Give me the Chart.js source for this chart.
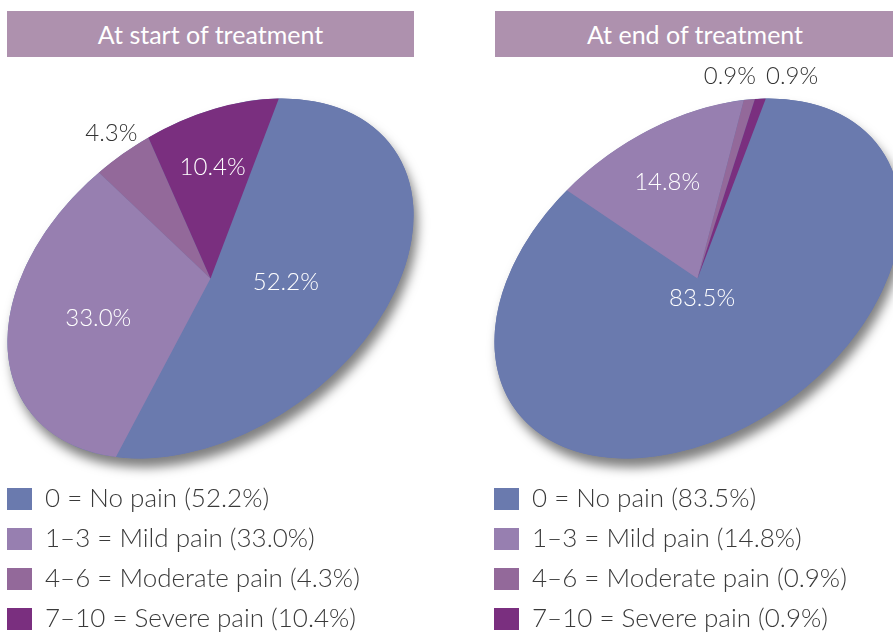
<!DOCTYPE html>
<html>
<head>
<meta charset="utf-8">
<script src="https://cdn.jsdelivr.net/npm/chart.js@4.4.1/dist/chart.umd.min.js"></script>
<style>
  html, body { margin: 0; padding: 0; width: 893px; height: 636px; overflow: hidden; background: #fff; }
  .title { position: absolute; top: 11px; height: 46px; background: #ae91ae; color: #fff;
           font: 400 25px Lato, sans-serif; line-height: 47px; text-align: center; }
  .box { position: absolute; top: 0; }
</style>
</head>
<body>
<div class="box" style="left:-7px"><canvas id="chartStart" width="446" height="642"></canvas></div>
<div class="box" style="left:480px"><canvas id="chartEnd" width="446" height="642"></canvas></div>
<div class="title" style="left:7px;width:407px">At start of treatment</div>
<div class="title" style="left:495px;width:400px">At end of treatment</div>
<script>
const categories = ['0 = No pain', '1–3 = Mild pain', '4–6 = Moderate pain', '7–10 = Severe pain'];
const startValues = [52.2, 33.0, 4.3, 10.4];
const endValues = [83.5, 14.8, 0.9, 0.9];
const colors = ['#6a7aae', '#977fb0', '#93699a', '#7a2f7f'];

const FONT = 'Lato';

// shape of the tilted pie: semi axes, tilt and centre inside each canvas
const tiltOpts = { cx: 217.5, cy: 278.5, a: 224.5, b: 152.4, tilt: -35.5 };

function place(o, ang, f) {
  const t = o.tilt * Math.PI / 180;
  const px = f * Math.cos(ang) * o.a, py = f * Math.sin(ang) * o.b;
  return { x: o.cx + px * Math.cos(t) - py * Math.sin(t), y: o.cy + px * Math.sin(t) + py * Math.cos(t) };
}

const ellipsePie = {
  id: 'ellipsePie',
  beforeDatasetsDraw(chart, args, o) {
    const arc = chart.getDatasetMeta(0).data[0];
    const ctx = chart.ctx;
    const r = arc.outerRadius;
    ctx.save();
    ctx.translate(o.cx, o.cy);
    ctx.rotate(o.tilt * Math.PI / 180);
    ctx.scale(o.a / r, o.b / r);
    ctx.translate(-arc.x, -arc.y);
    // drop shadow under the whole pie
    ctx.save();
    ctx.shadowColor = 'rgba(0,0,0,0.5)';
    ctx.shadowBlur = 11;
    ctx.shadowOffsetX = 4;
    ctx.shadowOffsetY = 9;
    ctx.beginPath();
    ctx.arc(arc.x, arc.y, r, 0, Math.PI * 2);
    ctx.fillStyle = colors[0];
    ctx.fill();
    ctx.restore();
  },
  afterDatasetsDraw(chart, args, o) {
    const ctx = chart.ctx;
    ctx.restore();
    const values = chart.data.datasets[0].data;
    const arcs = chart.getDatasetMeta(0).data;
    ctx.save();
    ctx.font = '300 24px ' + FONT;
    ctx.textAlign = 'center';
    ctx.textBaseline = 'middle';
    const outside = [];
    arcs.forEach((arc, i) => {
      const text = values[i].toFixed(1) + '%';
      const half = (arc.endAngle - arc.startAngle) / 2;
      const mid = arc.startAngle + half;
      if (values[i] >= 5) {
        const f = 2 * Math.sin(half) / (3 * half);
        const p = place(o, mid, f);
        ctx.fillStyle = '#ffffff';
        ctx.fillText(text, p.x, p.y);
      } else {
        const p = place(o, mid, 1);
        const dx = p.x - o.cx, dy = p.y - o.cy, d = Math.hypot(dx, dy);
        outside.push({ text, x: p.x + dx / d * 20, y: p.y + dy / d * 20 - 4, w: ctx.measureText(text).width });
      }
    });
    outside.sort((p, q) => p.x - q.x);
    for (let i = 1; i < outside.length; i++) {
      const p = outside[i - 1], q = outside[i];
      const need = (p.w + q.w) / 2 + 10 - (q.x - p.x);
      if (Math.abs(q.y - p.y) < 24 && need > 0) {
        p.x -= need / 2;
        q.x += need / 2;
        q.y = p.y = Math.min(p.y, q.y);
      }
    }
    ctx.fillStyle = '#333333';
    outside.forEach(p => ctx.fillText(p.text, p.x, p.y));
    ctx.restore();
  }
};

function makeChart(id, values) {
  return new Chart(document.getElementById(id), {
    type: 'pie',
    data: {
      labels: categories,
      datasets: [{
        data: values,
        backgroundColor: colors,
        borderWidth: 0,
        clip: false
      }]
    },
    plugins: [ellipsePie],
    options: {
      responsive: false,
      animation: false,
      events: [],
      rotation: 45.5,
      layout: { padding: 0 },
      plugins: {
        ellipsePie: tiltOpts,
        tooltip: { enabled: false },
        legend: {
          position: 'bottom',
          align: 'start',
          labels: {
            boxWidth: 25,
            boxHeight: 22,
            padding: 14,
            color: '#3a3a3a',
            font: { family: FONT, size: 26, weight: '300' },
            generateLabels(chart) {
              const ds = chart.data.datasets[0];
              return chart.data.labels.map((lab, i) => ({
                text: lab + ' (' + ds.data[i].toFixed(1) + '%)',
                fillStyle: ds.backgroundColor[i],
                strokeStyle: ds.backgroundColor[i],
                lineWidth: 0,
                fontColor: '#3a3a3a',
                index: i
              }));
            }
          }
        }
      }
    }
  });
}

makeChart('chartStart', startValues);
makeChart('chartEnd', endValues);
</script>
</body>
</html>
